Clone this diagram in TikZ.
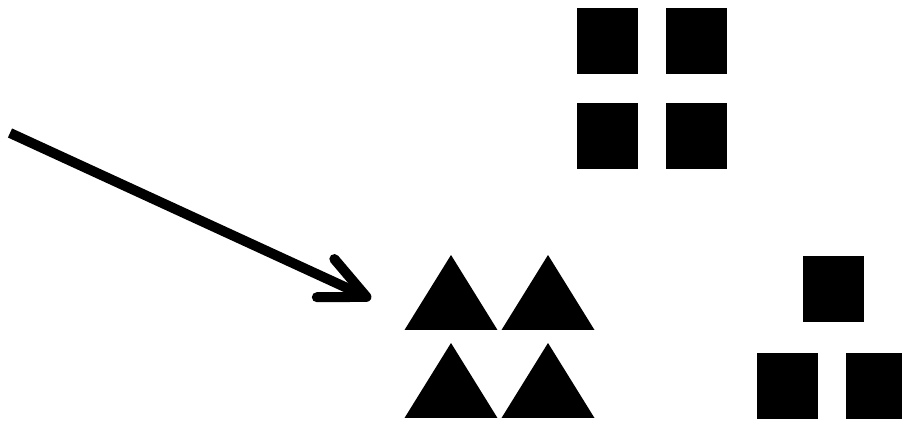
\documentclass[tikz,border=0pt]{standalone}
\usetikzlibrary{positioning,shapes.geometric,arrows.meta}

\tikzstyle{block} = [rectangle, fill=black, minimum width=1.22cm, minimum height=1.32cm, inner sep=0pt, outer sep=0pt]
\tikzstyle{tri} = [isosceles triangle, shape border rotate=90, isosceles triangle stretches, fill=black, minimum width=1.86cm, minimum height=1.5cm, inner sep=0pt, outer sep=0pt, anchor=apex]
\tikzstyle{arrow} = [line width=0.2cm, draw, -{Straight Barb[length=0.9cm,width=0.84cm,round]}]

\begin{document}
\begin{tikzpicture}[x=0.02cm,y=-0.02cm]

\useasboundingbox (0,0) rectangle (902,421);
\clip (0,0) rectangle (902,421);

% Top: four squares
\node[block](sqA) at (607,41) {};
\node[block,right=0.58cm of sqA](sqB) {};
\node[block,below=0.58cm of sqA](sqC) {};
\node[block,below=0.58cm of sqB](sqD) {};

% Triangles
\node[tri](triA) at (451,255) {};
\node[tri](triB) at (548,255) {};
\node[tri](triC) at (451,343) {};
\node[tri](triD) at (548,343) {};

% Bottom right: three squares
\node[block](sqTop) at (833,289) {};
\node[block,below=0.62cm of sqTop,xshift=-0.91cm](sqLeft) {};
\node[block,right=0.56cm of sqLeft](sqRight) {};

% Arrow
\coordinate (tail) at (10,133);
\coordinate (tip) at (371,299);
\path[arrow] (tail) -- (tip);

\end{tikzpicture}
\end{document}
